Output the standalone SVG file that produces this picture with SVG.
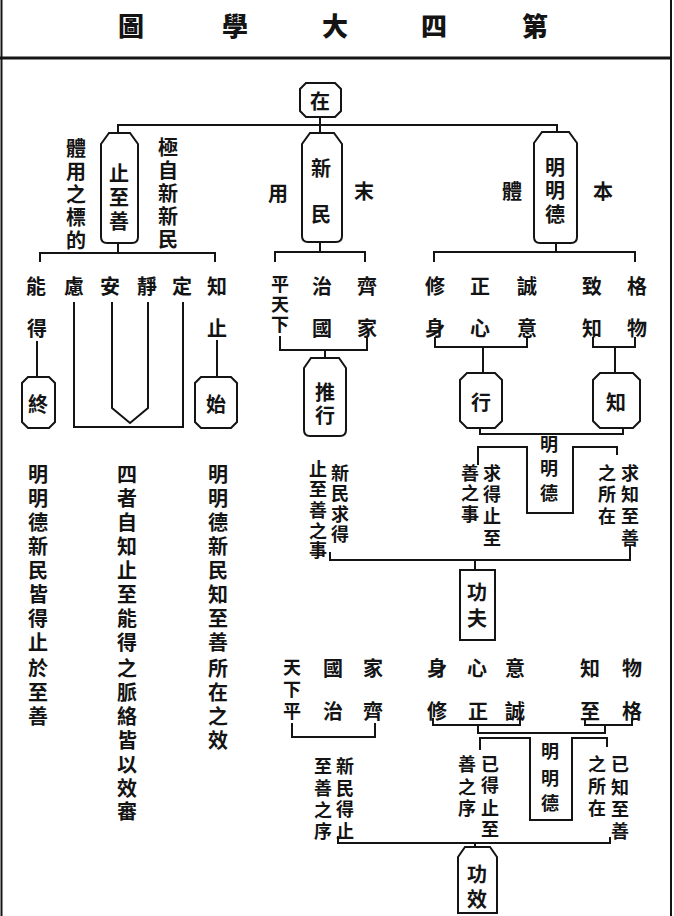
<svg xmlns="http://www.w3.org/2000/svg" width="674" height="916" viewBox="0 0 674 916">
<style>
.t{font-family:"Noto Sans CJK TC","Noto Sans CJK SC",sans-serif;font-size:20px;font-weight:700;text-anchor:middle;dominant-baseline:central;fill:#141414}
.s{font-size:18px}
.h{font-size:26px;font-weight:900}
.ln{fill:none;stroke:#141414;stroke-width:2}
.bx{fill:#fff;stroke:#141414;stroke-width:2}
</style>
<rect width="674" height="916" fill="#fff"/>
<g id="frame">
<path class="ln" d="M1.5,0 V916 M671,0 V916"/>
<path d="M0,58 H672" stroke="#141414" stroke-width="3"/>
</g>
<g id="title">
<text class="t h"><tspan x="535" y="24">第</tspan><tspan x="434" y="24">四</tspan><tspan x="335" y="24">大</tspan><tspan x="235" y="24">學</tspan><tspan x="131" y="24">圖</tspan></text>
</g>
<g id="connectors">
<path class="ln" d="M320,117 V133 M118,133 V125 H557 V132"/>
<path class="ln" d="M118,243 V253 M40,262 V253 H215 V262"/>
<path class="ln" d="M320,242 V252 M275,262 V252 H365 V262"/>
<path class="ln" d="M556,243 V252 M434,262 V252 H635 V262"/>
<path class="ln" d="M37,341 V377 M217,340 V377"/>
<path class="ln" d="M74,302 V427 H183 V302 M112,302 V408 L130,423 L148,408 V302"/>
<path class="ln" d="M280,336 V350 H367 V337 M325,350 V358"/>
<path class="ln" d="M435,337 V347 H527 V337 M483,347 V373"/>
<path class="ln" d="M593,337 V347 H635 V337 M615,347 V373"/>
<path class="ln" d="M480,428 V434 H623 V428"/>
<path class="ln" d="M478,465 V447 H527 V513 H573 V447 H617 V455"/>
<path class="ln" d="M330,552 V560 H630 V545 M475,560 V570"/>
<path class="ln" d="M292,723 V737 H375 V723"/>
<path class="ln" d="M433,718 V725 H520 V717 M585,718 V725 H632 V718 M478,725 V733 H605 V725"/>
<path class="ln" d="M480,750 V738 H530 V820 H572 V738 H607 V747"/>
<path class="ln" d="M338,836 V843 H610 V837 M475,843 V847"/>
</g>
<g id="n-zai">
<path class="bx" d="M306,83 H335 L341,89 V111 L335,117 H306 L300,111 V89 Z"/>
<text class="t" x="320" y="100">在</text>
</g>
<g id="n-zhizhishan">
<path class="bx" d="M101,144 L109,133 H130 L138,144 V237 Q138,243 132,243 H107 Q101,243 101,237 Z"/>
<text class="t"><tspan x="119" y="172">止</tspan><tspan x="119" y="196">至</tspan><tspan x="119" y="220">善</tspan></text>
</g>
<g id="n-xinmin">
<path class="bx" d="M302,144 L310,133 H334 L342,144 V236 Q342,242 336,242 H308 Q302,242 302,236 Z"/>
<text class="t"><tspan x="321" y="167">新</tspan><tspan x="321" y="213">民</tspan></text>
</g>
<g id="n-mingmingde">
<path class="bx" d="M534,143 L542,132 H569 L577,143 V237 Q577,243 571,243 H540 Q534,243 534,237 Z"/>
<text class="t"><tspan x="555" y="166">明</tspan><tspan x="555" y="189">明</tspan><tspan x="555" y="213">德</tspan></text>
</g>
<g id="labels-top">
<text class="t"><tspan x="76" y="147">體</tspan><tspan x="76" y="170">用</tspan><tspan x="76" y="193">之</tspan><tspan x="76" y="216">標</tspan><tspan x="76" y="239">的</tspan></text>
<text class="t"><tspan x="168" y="146">極</tspan><tspan x="168" y="169">自</tspan><tspan x="168" y="192">新</tspan><tspan x="168" y="215">新</tspan><tspan x="168" y="238">民</tspan></text>
<text class="t" x="278" y="192">用</text>
<text class="t" x="364" y="190">末</text>
<text class="t" x="512" y="190">體</text>
<text class="t" x="603" y="190">本</text>
</g>
<g id="row-zhi">
<text class="t"><tspan x="36" y="285">能</tspan><tspan x="74" y="285">慮</tspan><tspan x="110" y="285">安</tspan><tspan x="147" y="285">靜</tspan><tspan x="182" y="285">定</tspan><tspan x="217" y="285">知</tspan></text>
<text class="t"><tspan x="37" y="327">得</tspan><tspan x="217" y="327">止</tspan></text>
</g>
<g id="n-zhong">
<path class="bx" d="M28,377 H49 L55,383 V422 L49,428 H28 L22,422 V383 Z"/>
<text class="t" x="38" y="403">終</text>
</g>
<g id="n-shi">
<path class="bx" d="M201,377 H231 L237,383 V422 L231,428 H201 L195,422 V383 Z"/>
<text class="t" x="216" y="403">始</text>
</g>
<g id="row-ping">
<text class="t s"><tspan x="280" y="283">平</tspan><tspan x="280" y="303">天</tspan><tspan x="280" y="323">下</tspan></text>
<text class="t"><tspan x="322" y="285">治</tspan><tspan x="322" y="327">國</tspan><tspan x="367" y="285">齊</tspan><tspan x="367" y="327">家</tspan></text>
</g>
<g id="n-tuixing">
<path class="bx" d="M304,368 L311,358 H339 L346,368 V430 Q346,436 340,436 H310 Q304,436 304,430 Z"/>
<text class="t"><tspan x="325" y="391">推</tspan><tspan x="325" y="414">行</tspan></text>
</g>
<g id="row-xiu">
<text class="t"><tspan x="435" y="285">修</tspan><tspan x="480" y="285">正</tspan><tspan x="527" y="285">誠</tspan><tspan x="592" y="285">致</tspan><tspan x="637" y="285">格</tspan></text>
<text class="t"><tspan x="435" y="327">身</tspan><tspan x="480" y="327">心</tspan><tspan x="527" y="327">意</tspan><tspan x="592" y="327">知</tspan><tspan x="637" y="327">物</tspan></text>
</g>
<g id="n-xing">
<path class="bx" d="M467,373 H495 L502,380 V421 L495,428 H467 L460,421 V380 Z"/>
<text class="t" x="481" y="401">行</text>
</g>
<g id="n-zhi">
<path class="bx" d="M600,373 H633 L640,380 V421 L633,428 H600 L593,421 V380 Z"/>
<text class="t" x="616" y="401">知</text>
</g>
<g id="labels-mid">
<text class="t s"><tspan x="549" y="443">明</tspan><tspan x="549" y="467">明</tspan><tspan x="549" y="492">德</tspan></text>
<text class="t s"><tspan x="492" y="472">求</tspan><tspan x="492" y="493">得</tspan><tspan x="492" y="515">止</tspan><tspan x="492" y="537">至</tspan><tspan x="470" y="472">善</tspan><tspan x="470" y="492">之</tspan><tspan x="470" y="513">事</tspan></text>
<text class="t s"><tspan x="630" y="472">求</tspan><tspan x="630" y="493">知</tspan><tspan x="630" y="515">至</tspan><tspan x="630" y="537">善</tspan><tspan x="607" y="472">之</tspan><tspan x="607" y="493">所</tspan><tspan x="607" y="515">在</tspan></text>
<text class="t s"><tspan x="340" y="472">新</tspan><tspan x="340" y="492">民</tspan><tspan x="340" y="513">求</tspan><tspan x="340" y="533">得</tspan><tspan x="318" y="468">止</tspan><tspan x="318" y="488">至</tspan><tspan x="318" y="509">善</tspan><tspan x="318" y="530">之</tspan><tspan x="318" y="549">事</tspan></text>
</g>
<g id="n-gongfu">
<rect class="bx" x="460" y="570" width="35" height="70"/>
<text class="t"><tspan x="477" y="591">功</tspan><tspan x="477" y="617">夫</tspan></text>
</g>
<g id="labels-left">
<text class="t"><tspan x="38" y="473">明</tspan><tspan x="38" y="497">明</tspan><tspan x="38" y="521">德</tspan><tspan x="38" y="545">新</tspan><tspan x="38" y="569">民</tspan><tspan x="38" y="593">皆</tspan><tspan x="38" y="617">得</tspan><tspan x="38" y="641">止</tspan><tspan x="38" y="667">於</tspan><tspan x="38" y="691">至</tspan><tspan x="38" y="715">善</tspan></text>
<text class="t"><tspan x="127" y="473">四</tspan><tspan x="127" y="497">者</tspan><tspan x="127" y="521">自</tspan><tspan x="127" y="545">知</tspan><tspan x="127" y="569">止</tspan><tspan x="127" y="593">至</tspan><tspan x="127" y="617">能</tspan><tspan x="127" y="641">得</tspan><tspan x="127" y="667">之</tspan><tspan x="127" y="691">脈</tspan><tspan x="127" y="715">絡</tspan><tspan x="127" y="739">皆</tspan><tspan x="127" y="763">以</tspan><tspan x="127" y="787">效</tspan><tspan x="127" y="810">審</tspan></text>
<text class="t"><tspan x="218" y="473">明</tspan><tspan x="218" y="497">明</tspan><tspan x="218" y="521">德</tspan><tspan x="218" y="545">新</tspan><tspan x="218" y="569">民</tspan><tspan x="218" y="593">知</tspan><tspan x="218" y="617">至</tspan><tspan x="218" y="641">善</tspan><tspan x="218" y="667">所</tspan><tspan x="218" y="691">在</tspan><tspan x="218" y="715">之</tspan><tspan x="218" y="739">效</tspan></text>
</g>
<g id="row-lower">
<text class="t s"><tspan x="292" y="666">天</tspan><tspan x="292" y="688">下</tspan><tspan x="292" y="710">平</tspan></text>
<text class="t"><tspan x="333" y="667">國</tspan><tspan x="373" y="667">家</tspan><tspan x="437" y="667">身</tspan><tspan x="477" y="667">心</tspan><tspan x="515" y="667">意</tspan><tspan x="590" y="667">知</tspan><tspan x="632" y="667">物</tspan></text>
<text class="t"><tspan x="333" y="710">治</tspan><tspan x="373" y="710">齊</tspan><tspan x="437" y="710">修</tspan><tspan x="478" y="710">正</tspan><tspan x="515" y="710">誠</tspan><tspan x="590" y="710">至</tspan><tspan x="632" y="710">格</tspan></text>
</g>
<g id="labels-lower">
<text class="t s"><tspan x="550" y="750">明</tspan><tspan x="550" y="777">明</tspan><tspan x="550" y="802">德</tspan></text>
<text class="t s"><tspan x="490" y="763">已</tspan><tspan x="490" y="784">得</tspan><tspan x="490" y="807">止</tspan><tspan x="490" y="828">至</tspan><tspan x="467" y="763">善</tspan><tspan x="467" y="786">之</tspan><tspan x="467" y="807">序</tspan></text>
<text class="t s"><tspan x="620" y="763">已</tspan><tspan x="620" y="786">知</tspan><tspan x="620" y="808">至</tspan><tspan x="620" y="830">善</tspan><tspan x="597" y="763">之</tspan><tspan x="597" y="785">所</tspan><tspan x="597" y="807">在</tspan></text>
<text class="t s"><tspan x="345" y="765">新</tspan><tspan x="345" y="787">民</tspan><tspan x="345" y="808">得</tspan><tspan x="345" y="830">止</tspan><tspan x="323" y="765">至</tspan><tspan x="323" y="787">善</tspan><tspan x="323" y="809">之</tspan><tspan x="323" y="830">序</tspan></text>
</g>
<g id="n-gongxiao">
<path class="bx" d="M458,857 L465,847 H490 L497,857 V913 H458 Z"/>
<text class="t"><tspan x="477" y="873">功</tspan><tspan x="477" y="898">效</tspan></text>
</g>
</svg>
